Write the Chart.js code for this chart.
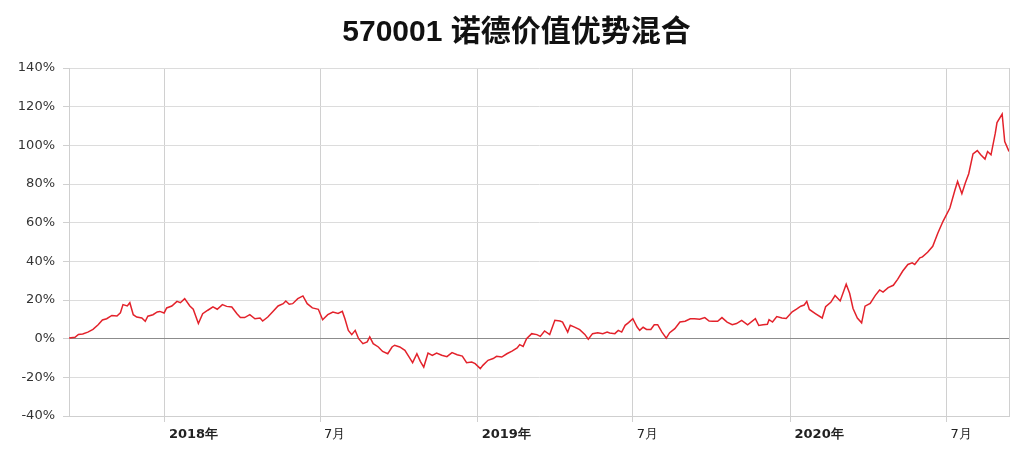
<!DOCTYPE html>
<html>
<head>
<meta charset="utf-8">
<script src="https://cdn.jsdelivr.net/npm/chart.js@4/dist/chart.umd.min.js"></script>
<style>
  body { margin: 0; background: #fff; }
  #wrap { width: 1033px; height: 465px; }
</style>
</head>
<body>
<div id="wrap"><canvas id="navChart" width="1033" height="465"></canvas></div>
<script>
const startDate = '2017-09-11';
const endDay = 1097;

// days since startDate
const dayOffsets = [
    0, 7, 11, 16, 22, 28, 34, 39, 44, 50, 56, 60, 63, 68, 71, 75, 79, 85, 89, 92,
    98, 103, 106, 111, 114, 120, 126, 130, 135, 141, 145, 151, 156, 162, 168, 173, 179, 184, 190, 196,
    200, 205, 211, 217, 223, 226, 232, 238, 244, 250, 253, 257, 261, 267, 273, 278, 284, 291, 296, 302,
    308, 314, 319, 322, 326, 330, 334, 338, 343, 348, 351, 355, 361, 366, 372, 377, 380, 386, 392, 397,
    401, 406, 410, 414, 419, 424, 429, 435, 441, 447, 453, 459, 464, 470, 474, 480, 483, 489, 495, 499,
    505, 511, 517, 523, 526, 530, 534, 540, 546, 550, 555, 561, 567, 573, 576, 582, 585, 590, 596, 602,
    606, 611, 617, 623, 628, 631, 637, 641, 645, 649, 653, 658, 663, 666, 670, 674, 679, 683, 687, 692,
    697, 701, 707, 713, 719, 725, 730, 736, 742, 747, 751, 757, 762, 768, 774, 779, 785, 792, 801, 805,
    810, 815, 817, 821, 826, 832, 837, 844, 849, 854, 858, 861, 864, 871, 879, 883, 889, 894, 900, 907,
    911, 915, 920, 925, 929, 935, 941, 946, 950, 956, 962, 967, 973, 979, 984, 987, 993, 996, 1002, 1008,
    1014, 1020, 1028, 1034, 1037, 1042, 1046, 1050, 1055, 1060, 1064, 1069, 1072, 1076, 1081, 1083, 1089, 1092, 1097
];

// cumulative return, %
const navPct = [
    0.3, 0.7, 2.2, 2.4, 3.4, 4.8, 7.2, 9.7, 10.3, 12, 11.7, 13.4, 17.6, 16.9, 18.6, 12.4, 11.2, 10.7, 9, 11.6,
    12.4, 13.8, 14.1, 13.3, 15.9, 16.9, 19.3, 18.6, 20.7, 16.9, 15.2, 7.8, 12.9, 14.7, 16.4, 15.2, 17.6, 16.7, 16.4, 12.9,
    10.9, 10.9, 12.4, 10.3, 10.7, 9.1, 11.2, 14.1, 16.9, 18.1, 19.5, 17.8, 18.1, 20.7, 22.1, 18.1, 15.9, 15.2, 9.8, 12.4,
    13.8, 13, 14.1, 10.3, 4.3, 2.1, 4.3, 0, -2.6, -1.7, 0.9, -2.6, -4.3, -6.6, -7.8, -4.3, -3.4, -4.3, -6, -9.5,
    -12.4, -7.8, -11.7, -14.7, -7.4, -8.6, -7.4, -8.6, -9.3, -7.2, -8.3, -9, -12.4, -12.1, -12.9, -15.5, -13.8, -11.2, -10.3, -9.1,
    -9.5, -7.8, -6.4, -4.8, -3.1, -4, 0, 2.6, 2.1, 1.2, 4, 2.1, 9.5, 9.1, 8.6, 3.4, 6.9, 6, 4.7, 2.2,
    -0.3, 2.6, 3.1, 2.6, 3.4, 2.9, 2.6, 4.3, 3.4, 6.9, 8.3, 10.3, 6, 4.3, 5.9, 4.8, 4.8, 7.2, 7.2, 3.4,
    0.3, 3.1, 5.2, 8.6, 9, 10.3, 10.3, 10, 10.9, 9.1, 9, 9, 10.9, 8.6, 7.2, 7.8, 9.5, 7.2, 10.4, 6.8,
    7.2, 7.4, 9.8, 8.6, 11.4, 10.7, 10.4, 13.9, 15.3, 16.8, 17.4, 19.3, 15.1, 13, 10.7, 16.5, 18.8, 22.3, 19.5, 28.2,
    23.5, 15.6, 10.7, 8.2, 16.8, 18.2, 22.4, 25.2, 24.1, 26.4, 27.6, 30.7, 35, 38.4, 39.2, 38.4, 41.8, 42.3, 44.7, 47.8,
    54.7, 60.7, 67.6, 77, 81.3, 75, 80.5, 85.3, 95.6, 97.3, 95.1, 92.9, 96.8, 95.1, 106.3, 111.8, 116.2, 102, 96.8
];

const tickDates = ['2018-01-01', '2018-07-01', '2019-01-01', '2019-07-01', '2020-01-01', '2020-07-01'];
const tickLabels = ['2018年', '7月', '2019年', '7月', '2020年', '7月'];

function daysFromStart(d) {
    return Math.round((Date.parse(d) - Date.parse(startDate)) / 86400000);
}
const tickDays = tickDates.map(daysFromStart);

const points = dayOffsets.map((d, i) => ({ x: d, y: navPct[i] }));

const ctx = document.getElementById('navChart').getContext('2d');
const navChart = new Chart(ctx, {
    type: 'line',
    data: {
        datasets: [{
            label: '570001',
            data: points,
            borderColor: '#e3222b',
            borderWidth: 1.5,
            pointRadius: 0,
            tension: 0,
            fill: false
        }]
    },
    options: {
        responsive: false,
        animation: false,
        layout: {
            padding: 0
        },
        plugins: {
            legend: { display: false },
            tooltip: { enabled: false },
            title: {
                display: true,
                text: '570001 诺德价值优势混合',
                color: '#111',
                font: { family: '"Liberation Sans", "Noto Sans CJK SC", sans-serif', size: 30, weight: 'bold' },
                padding: { top: 15, bottom: 17 }
            }
        },
        scales: {
            x: {
                type: 'linear',
                min: 0,
                max: endDay,
                afterBuildTicks: scale => {
                    scale.ticks = tickDays.map(v => ({ value: v })).concat([{ value: endDay }]);
                },
                afterFit: scale => { scale.height = 49; },
                ticks: {
                    autoSkip: false,
                    maxRotation: 0,
                    align: 'start',
                    labelOffset: 4,
                    padding: 5,
                    color: '#222',
                    font: c => ({
                        family: '"DejaVu Sans", sans-serif',
                        size: 13,
                        weight: c.tick && String(c.tick.label).includes('年') ? 'bold' : 'normal'
                    }),
                    callback: value => {
                        const i = tickDays.indexOf(value);
                        return i >= 0 ? tickLabels[i] : '';
                    }
                },
                grid: {
                    color: '#d0d0d0',
                    tickLength: 6,
                    tickColor: c => (c.tick && c.tick.value === endDay ? 'rgba(0,0,0,0)' : '#d0d0d0')
                },
                border: { color: '#cfcfcf' }
            },
            y: {
                min: -40,
                max: 140,
                afterFit: scale => { scale.width = 69; },
                ticks: {
                    stepSize: 20,
                    padding: 8,
                    color: '#333',
                    font: { family: '"DejaVu Sans", sans-serif', size: 13 },
                    callback: v => v + '%'
                },
                grid: {
                    color: c => (c.tick && c.tick.value === 0 ? '#8c8c8c' : '#dcdcdc'),
                    tickLength: 6,
                    tickColor: '#d0d0d0'
                },
                border: { color: '#cfcfcf' }
            },
            // empty right-hand margin, keeps the title centred on the page
            yRight: {
                position: 'right',
                min: -40,
                max: 140,
                afterFit: scale => { scale.width = 24; },
                ticks: { display: false },
                grid: { display: false },
                border: { display: false }
            }
        }
    }
});
</script>
</body>
</html>
